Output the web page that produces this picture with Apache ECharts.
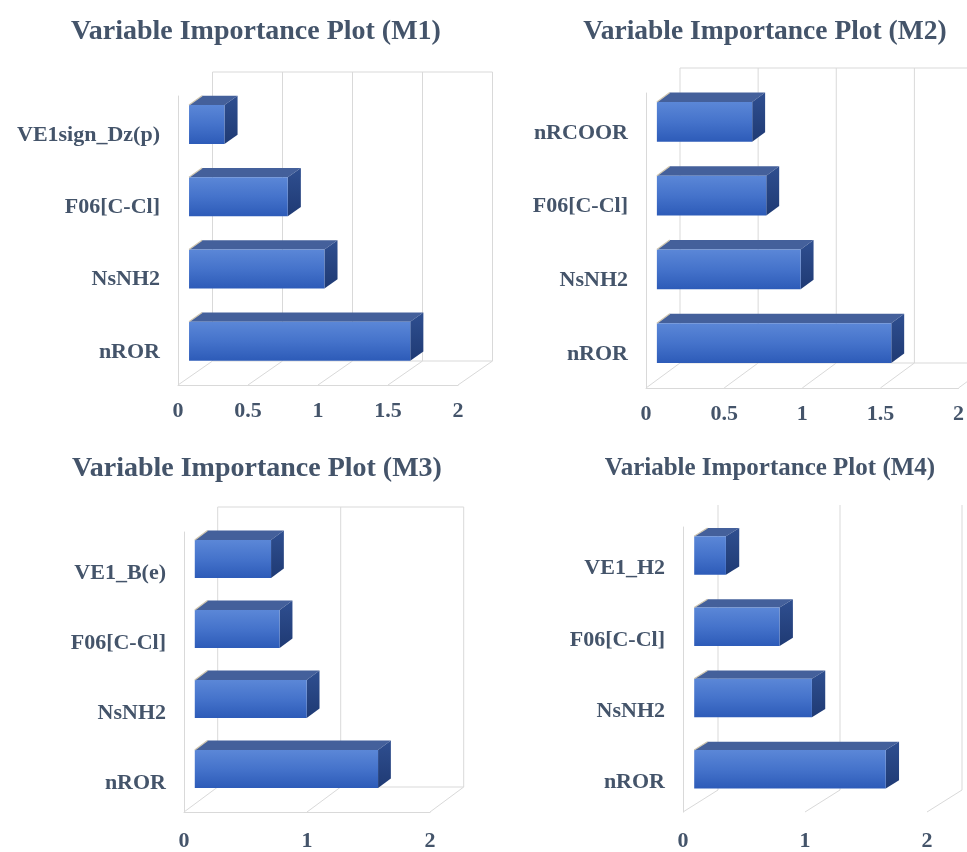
<!DOCTYPE html>
<html>
<head>
<meta charset="utf-8">
<script src="https://cdn.jsdelivr.net/npm/echarts@6/dist/echarts.min.js"></script>
<style>
  html, body { margin: 0; padding: 0; background: #ffffff; }
  #chart { width: 967px; height: 852px; }
</style>
</head>
<body>
<div id="chart"></div>
<script>
// Variable importance for four models; categories listed bottom-to-top.
const categoriesM1 = ['nROR', 'NsNH2', 'F06[C-Cl]', 'VE1sign_Dz(p)'];
const valuesM1 = [1.58, 0.967, 0.705, 0.253];
const ticksM1 = [0, 0.5, 1, 1.5, 2];

const categoriesM2 = ['nROR', 'NsNH2', 'F06[C-Cl]', 'nRCOOR'];
const valuesM2 = [1.50, 0.92, 0.70, 0.61];
const ticksM2 = [0, 0.5, 1, 1.5, 2];

const categoriesM3 = ['nROR', 'NsNH2', 'F06[C-Cl]', 'VE1_B(e)'];
const valuesM3 = [1.49, 0.91, 0.69, 0.62];
const ticksM3 = [0, 1, 2];

const categoriesM4 = ['nROR', 'NsNH2', 'F06[C-Cl]', 'VE1_H2'];
const valuesM4 = [1.57, 0.965, 0.70, 0.26];
const ticksM4 = [0, 1, 2];

const titleTexts = [
  'Variable Importance Plot (M1)',
  'Variable Importance Plot (M2)',
  'Variable Importance Plot (M3)',
  'Variable Importance Plot (M4)'
];

const FONT = "'Liberation Serif', 'Times New Roman', serif";
const TEXT_COLOR = '#44546A';
const GRID_COLOR = '#d9d9d9';

// Layout of each panel: front plane of the 3-D box, depth offset and frame options.
// labelDrop: how far category labels sit below their band centre.
const panels = [
  { cats: categoriesM1, vals: valuesM1, ticks: ticksM1,
    grid: { left: 178, top: 96, width: 280, height: 289 }, depth: [34.5, -24],
    frame: true, titleX: 256, titleY: 18, titleSize: 28, tickMargin: 15, labelDrop: 3 },
  { cats: categoriesM2, vals: valuesM2, ticks: ticksM2,
    grid: { left: 646, top: 93, width: 316, height: 295 }, depth: [34, -25],
    frame: true, titleX: 765, titleY: 18, titleSize: 27.5, tickMargin: 15, labelDrop: 3 },
  { cats: categoriesM3, vals: valuesM3, ticks: ticksM3,
    grid: { left: 184, top: 532, width: 246, height: 286 }, depth: [33.7, -25],
    frame: true, titleX: 257, titleY: 455, titleSize: 28, tickMargin: 18, labelDrop: 6 },
  { cats: categoriesM4, vals: valuesM4, ticks: ticksM4,
    grid: { left: 683, top: 527, width: 244, height: 289 }, depth: [35, -22],
    frame: false, titleX: 770, titleY: 456, titleSize: 25, tickMargin: 18, labelDrop: 6 }
];

// Bars occupy this slice of the box depth (0 = front, 1 = back).
const DEPTH_FRONT = 0.32;
const DEPTH_BACK = 0.70;
const BAR_RATIO = 0.54;

function wallRenderer(panel) {
  const [dx, dy] = panel.depth;
  return function (params, api) {
    const cs = params.coordSys;
    const floorY = cs.y + cs.height;
    const topY = cs.y;
    const x = api.coord([api.value(0), 0])[0];
    const lineStyle = { stroke: GRID_COLOR, lineWidth: 1, fill: null };
    const children = [
      { type: 'line', shape: { x1: x, y1: floorY, x2: x + dx, y2: floorY + dy }, style: lineStyle },
      { type: 'line', shape: { x1: x + dx, y1: topY + dy, x2: x + dx, y2: floorY + dy }, style: lineStyle }
    ];
    if (params.dataIndex === 0 && panel.frame) {
      const xEnd = cs.x + cs.width;
      children.push(
        { type: 'line', shape: { x1: cs.x + dx, y1: topY + dy, x2: xEnd + dx, y2: topY + dy }, style: lineStyle },
        { type: 'line', shape: { x1: cs.x + dx, y1: floorY + dy, x2: xEnd + dx, y2: floorY + dy }, style: lineStyle }
      );
    }
    return { type: 'group', children: children };
  };
}

function barRenderer(panel) {
  const [dx, dy] = panel.depth;
  return function (params, api) {
    const v = api.value(0);
    const ci = api.value(1);
    const p0 = api.coord([0, ci]);
    const p1 = api.coord([v, ci]);
    const band = api.size([0, 1])[1];
    const h = band * BAR_RATIO;
    const top = p0[1] - h / 2;
    const bot = p0[1] + h / 2;
    const ax = DEPTH_FRONT * dx, ay = DEPTH_FRONT * dy;
    const bx = DEPTH_BACK * dx, by = DEPTH_BACK * dy;
    const x0 = p0[0], x1 = p1[0];
    return {
      type: 'group',
      children: [
        { // top face
          type: 'polygon',
          shape: { points: [[x0 + ax, top + ay], [x1 + ax, top + ay], [x1 + bx, top + by], [x0 + bx, top + by]] },
          style: { fill: '#44609b' }
        },
        { // right face
          type: 'polygon',
          shape: { points: [[x1 + ax, top + ay], [x1 + bx, top + by], [x1 + bx, bot + by], [x1 + ax, bot + ay]] },
          style: {
            fill: { type: 'linear', x: 0, y: 0, x2: 0, y2: 1,
              colorStops: [{ offset: 0, color: '#2f4f90' }, { offset: 1, color: '#1f3a74' }] }
          }
        },
        { // front face
          type: 'rect',
          shape: { x: x0 + ax, y: top + ay, width: x1 - x0, height: h },
          style: {
            fill: { type: 'linear', x: 0, y: 0, x2: 0, y2: 1,
              colorStops: [
                { offset: 0, color: '#5b87d7' },
                { offset: 0.5, color: '#4573cb' },
                { offset: 1, color: '#2d5bb8' }
              ] }
          }
        },
        { // left edge highlight of the top face
          type: 'line',
          shape: { x1: x0 + ax, y1: top + ay, x2: x0 + bx, y2: top + by },
          style: { stroke: '#cfc6b0', lineWidth: 1.2 }
        }
      ]
    };
  };
}

const option = {
  animation: false,
  backgroundColor: '#ffffff',
  title: panels.map((p, i) => ({
    text: titleTexts[i],
    left: p.titleX,
    top: p.titleY,
    textAlign: 'center',
    padding: 0,
    textStyle: { fontFamily: FONT, fontWeight: 'bold', fontSize: p.titleSize, color: TEXT_COLOR }
  })),
  grid: panels.map(p => Object.assign({ containLabel: false }, p.grid)),
  xAxis: panels.map((p, i) => ({
    type: 'value',
    gridIndex: i,
    min: p.ticks[0],
    max: p.ticks[p.ticks.length - 1],
    interval: p.ticks[1] - p.ticks[0],
    axisLine: { show: p.frame, lineStyle: { color: GRID_COLOR, width: 1 } },
    axisTick: { show: false },
    splitLine: { show: false },
    axisLabel: { margin: p.tickMargin, fontFamily: FONT, fontWeight: 'bold', fontSize: 22, color: TEXT_COLOR }
  })),
  yAxis: panels.map((p, i) => ({
    type: 'category',
    gridIndex: i,
    data: p.cats,
    axisLine: { show: true, lineStyle: { color: GRID_COLOR, width: 1 } },
    axisTick: { show: false },
    splitLine: { show: false },
    axisLabel: {
      margin: 18,
      verticalAlign: 'top',
      lineHeight: p.labelDrop * 2,
      fontFamily: FONT, fontWeight: 'bold', fontSize: 22, color: TEXT_COLOR
    }
  })),
  series: []
};

panels.forEach((p, i) => {
  option.series.push({
    type: 'custom',
    xAxisIndex: i,
    yAxisIndex: i,
    z: 1,
    silent: true,
    renderItem: wallRenderer(p),
    encode: { x: 0, y: 1 },
    data: p.ticks.map(t => [t, 0])
  });
  option.series.push({
    type: 'custom',
    xAxisIndex: i,
    yAxisIndex: i,
    z: 3,
    renderItem: barRenderer(p),
    encode: { x: 0, y: 1 },
    data: p.vals.map((v, ci) => [v, ci])
  });
});

const chart = echarts.init(document.getElementById('chart'), null, { renderer: 'canvas' });
chart.setOption(option);
</script>
</body>
</html>
